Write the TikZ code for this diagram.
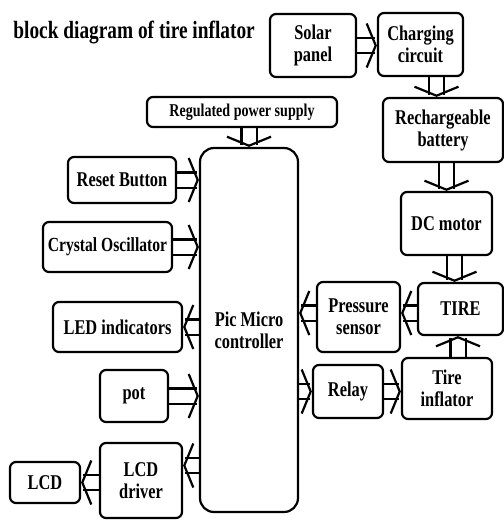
\documentclass[tikz,border=0pt]{standalone}
\usepackage{fontspec}
\setmainfont{Liberation Serif}[FakeStretch=0.78]
\usetikzlibrary{arrows.meta, calc, backgrounds}
\tikzset{
  blk/.style={draw, line width=1.1pt, rounded corners=3pt, align=center, inner sep=1pt,
    font=\bfseries\fontsize{10.5}{11}\selectfont},
  fat/.style={draw=white, line width=1pt,
    -{Straight Barb[color=black, line width=1.1pt, length=4.5pt, width=22pt]},
    preaction={draw=black, -, double=white, double distance=6.5pt, line width=1.1pt, shorten >=1pt}},
}

\begin{document}
\begin{tikzpicture}[x=0.5pt, y=-0.5pt]
  \useasboundingbox (0,0) rectangle (504,521);

  \node[anchor=west, inner sep=0pt, font=\bfseries\fontsize{12.4}{14}\selectfont] (title) at (13,33) {block diagram of tire inflator};

  % power side
  \node[blk, minimum width=43pt, minimum height=31.5pt] (solar) at (313,45.5) {Solar\\panel};
  \node[blk, minimum width=42.5pt, minimum height=31.5pt] (charging) at (420.5,44.5) {Charging\\circuit};
  \node[blk, minimum width=60pt, minimum height=32pt] (battery) at (443,130) {Rechargeable\\battery};
  \node[blk, minimum width=45.5pt, minimum height=31.5pt] (dcmotor) at (446.5,223.5) {DC motor};
  \node[blk, minimum width=42.5pt, minimum height=26pt] (tire) at (460.5,309) {TIRE};
  \node[blk, minimum width=41.5pt, minimum height=35pt] (pressure) at (358.5,317) {Pressure\\sensor};
  \node[blk, minimum width=35pt, minimum height=26.5pt] (relay) at (348,391.5) {Relay};
  \node[blk, minimum width=45pt, minimum height=30.5pt] (inflator) at (447,388.5) {Tire\\inflator};

  % controller side
  \node[blk, font=\bfseries\fontsize{9}{10}\selectfont, minimum width=95pt, minimum height=15pt] (rps) at (242,112) {Regulated power supply};
  \node[blk, rounded corners=7pt, minimum width=49pt, minimum height=182pt] (pic) at (249,330) {Pic Micro\\controller};
  \node[blk, minimum width=54pt, minimum height=23pt] (reset) at (122,180) {Reset Button};
  \node[blk, font=\bfseries\fontsize{10}{11}\selectfont, minimum width=64.5pt, minimum height=25pt] (crystal) at (107.5,247) {Crystal Oscillator};
  \node[blk, minimum width=64.5pt, minimum height=25pt] (led) at (117.5,327) {LED indicators};
  \node[blk, minimum width=34pt, minimum height=26pt] (pot) at (134,396) {pot};
  \node[blk, minimum width=41pt, minimum height=37.5pt] (lcddrv) at (141,480.5) {LCD\\driver};
  \node[blk, minimum width=35pt, minimum height=20.5pt] (lcd) at (45,482.5) {LCD};

  % arrows
  \begin{scope}[on background layer]
    \draw[fat] (solar.east) -- (solar.east -| charging.west);
    \draw[fat] ([xshift=8pt]charging.south) -- ([xshift=8pt]charging.south |- battery.north);
    \draw[fat] (battery.south -| dcmotor.north) -- (dcmotor.north);
    \draw[fat] ([xshift=4pt]dcmotor.south) -- ([xshift=4pt]dcmotor.south |- tire.north);
    \draw[fat] ([yshift=-2pt]tire.west) -- ([yshift=-2pt]tire.west -| pressure.east);
    \draw[fat] ([yshift=2pt]pressure.west) -- ([yshift=2pt]pressure.west -| pic.east);
    \draw[fat] ([xshift=5.5pt]inflator.north) -- ([xshift=5.5pt]inflator.north |- tire.south);
    \draw[fat] (relay.west -| pic.east) -- (relay.west);
    \draw[fat] (relay.east) -- (relay.east -| inflator.west);
    \draw[fat] (pic.north |- rps.south) -- (pic.north);
    \draw[fat] (reset.east) -- (reset.east -| pic.west);
    \draw[fat] (crystal.east) -- (crystal.east -| pic.west);
    \draw[fat] (led.east -| pic.west) -- (led.east);
    \draw[fat] (pot.east) -- (pot.east -| pic.west);
    \draw[fat] ($(pic.west |- lcddrv.east)+(0,-15)$) -- ($(lcddrv.east)+(0,-15)$);
    \draw[fat] (lcddrv.west |- lcd.east) -- (lcd.east);
  \end{scope}
\end{tikzpicture}
\end{document}
